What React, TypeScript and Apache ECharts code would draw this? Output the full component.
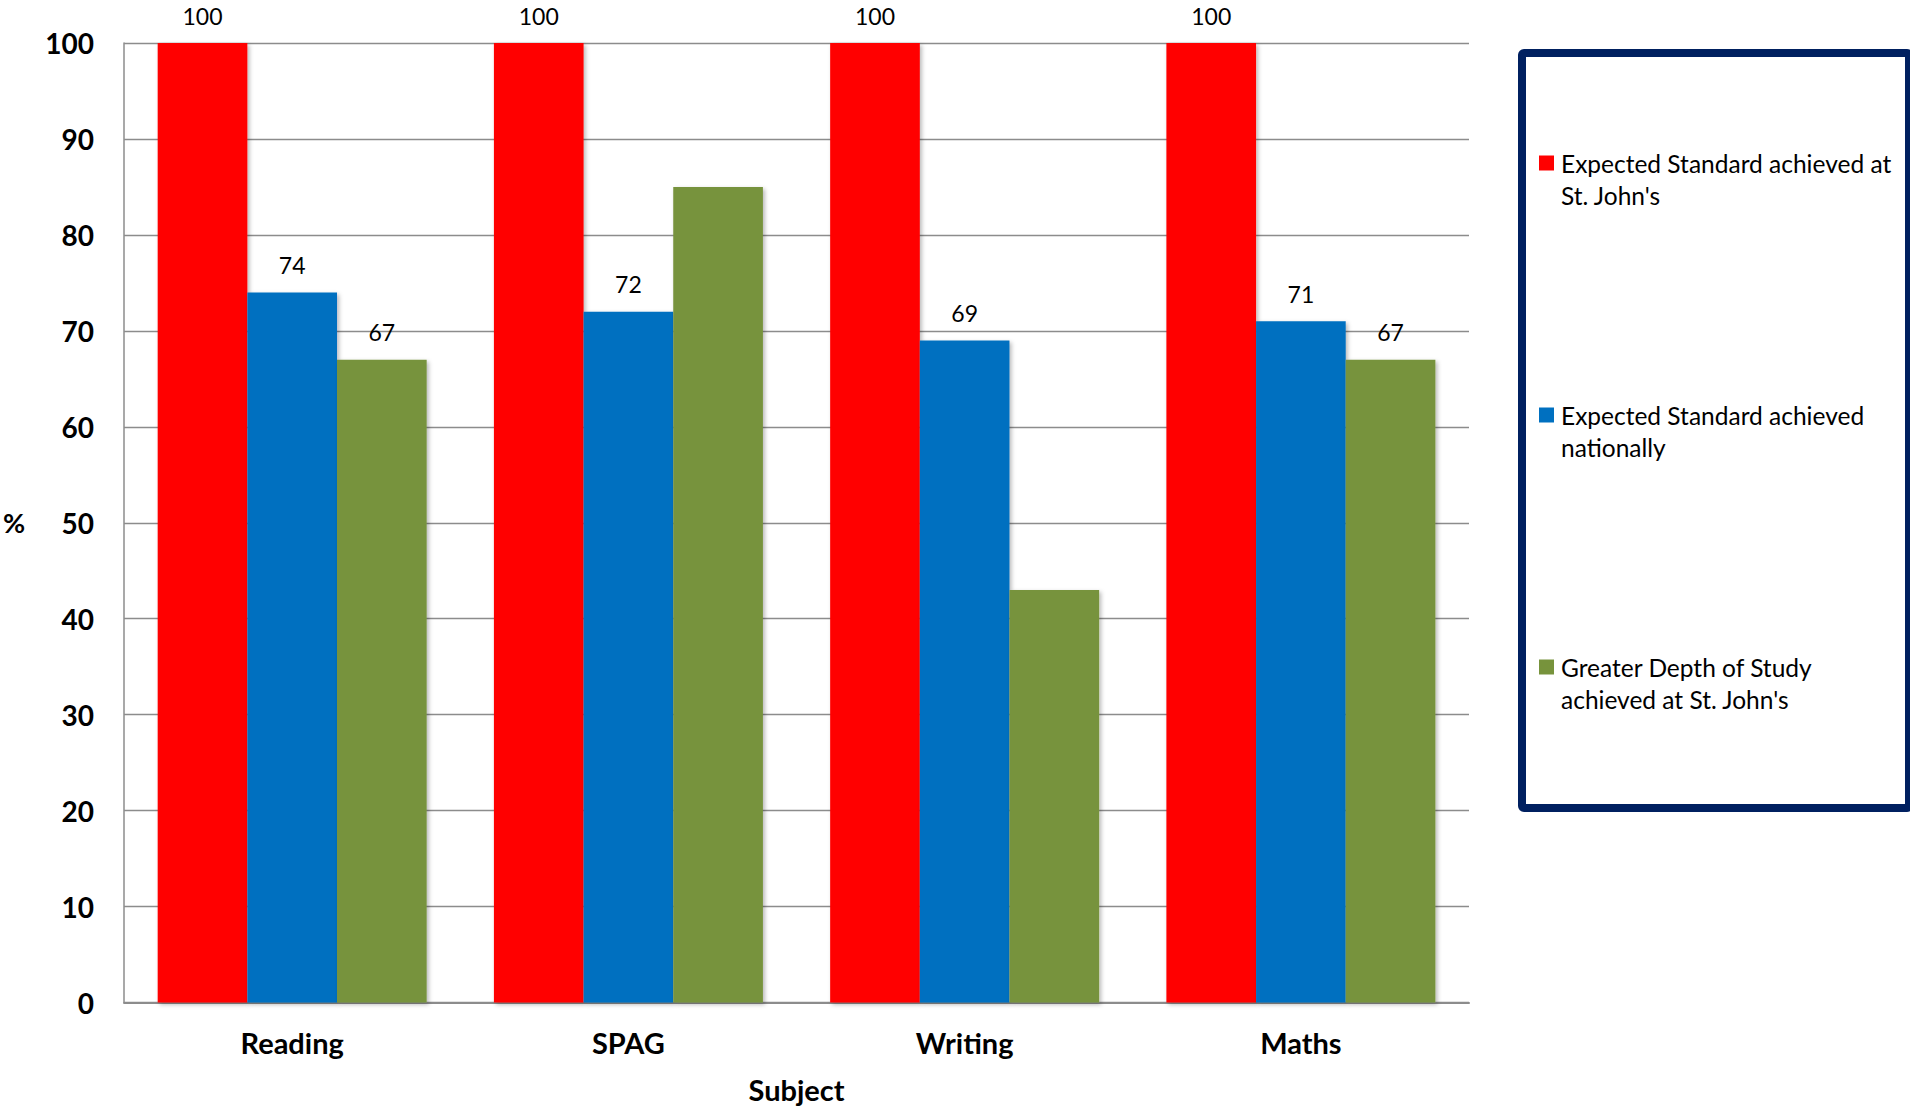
import React, { useEffect, useRef } from "react";
import * as echarts from "echarts";

const categories = ["Reading", "SPAG", "Writing", "Maths"];
const seriesNames = [
  "Expected Standard achieved at St. John's",
  "Expected Standard achieved nationally",
  "Greater Depth of Study achieved at St. John's",
];
const legendWrapped = [
  "Expected Standard achieved at\nSt. John's",
  "Expected Standard achieved\nnationally",
  "Greater Depth of Study\nachieved at St. John's",
];
const expectedSchool = [100, 100, 100, 100];
const expectedNational = [74, 72, 69, 71];
const greaterDepth = [67, 85, 43, 67];
const greaterDepthLabelShown = [true, false, false, true];
const yTicks = { min: 0, max: 100, interval: 10 };
const colors = ["#FF0000", "#0070C0", "#77933C"];

const FONT = "Lato";

export default function App() {
  const ref = useRef<HTMLDivElement>(null);
  useEffect(() => {
    if (!ref.current) return;
    const chart = echarts.init(ref.current, null, { renderer: "svg" });
    const labelStyle = {
      show: true,
      position: "top",
      distance: 16,
      fontFamily: FONT,
      fontSize: 23,
      color: "#000",
    };
    const shadow = {
      shadowColor: "rgba(0,0,0,0.28)",
      shadowBlur: 4,
      shadowOffsetX: 2,
      shadowOffsetY: 2,
    };
    const datasets = [expectedSchool, expectedNational, greaterDepth];
    const series = datasets.map((arr, i) => ({
      name: seriesNames[i],
      type: "bar",
      barGap: "0%",
      barCategoryGap: "20%",
      itemStyle: { color: colors[i], ...shadow },
      label: labelStyle,
      data: arr.map((v, j) =>
        i === 2 && !greaterDepthLabelShown[j]
          ? { value: v, label: { show: false } }
          : v
      ),
    }));
    const wrapMap: Record<string, string> = {};
    seriesNames.forEach((n, i) => (wrapMap[n] = " \n" + legendWrapped[i]));
    chart.setOption({
      animation: false,
      backgroundColor: "#fff",
      grid: { left: 121, right: 441, top: 43, bottom: 104 },
      legend: {
        orient: "vertical",
        left: 1539,
        top: 115,
        padding: 0,
        itemGap: 156,
        itemWidth: 15,
        itemHeight: 15,
        icon: "rect",
        data: seriesNames,
        formatter: (name: string) => wrapMap[name] || name,
        textStyle: {
          fontFamily: FONT,
          fontSize: 24.5,
          lineHeight: 32,
          color: "#000",
          padding: [0, 0, 0, 2],
        },
      },
      xAxis: {
        type: "category",
        data: categories,
        name: "Subject",
        nameLocation: "middle",
        nameGap: 87,
        nameTextStyle: {
          fontFamily: FONT,
          fontSize: 29,
          fontWeight: "bold",
          color: "#000",
          verticalAlign: "middle",
        },
        axisLine: { show: true, lineStyle: { color: "#8c8c8c", width: 2 } },
        axisTick: { show: false },
        axisLabel: {
          fontFamily: FONT,
          fontSize: 29,
          fontWeight: "bold",
          color: "#000",
          margin: 25,
        },
      },
      yAxis: {
        type: "value",
        min: yTicks.min,
        max: yTicks.max,
        interval: yTicks.interval,
        name: "%",
        nameLocation: "middle",
        nameRotate: 0,
        nameGap: 110,
        nameTextStyle: {
          fontFamily: FONT,
          fontSize: 27,
          fontWeight: "bold",
          color: "#000",
          align: "center",
        },
        axisLine: { show: true, lineStyle: { color: "#8c8c8c", width: 1.5 } },
        axisTick: { show: false },
        splitLine: { show: true, lineStyle: { color: "#8c8c8c", width: 1.4 } },
        axisLabel: {
          fontFamily: FONT,
          fontSize: 28,
          fontWeight: "bold",
          color: "#000",
          margin: 30,
        },
      },
      graphic: [
        {
          type: "rect",
          shape: { x: 1522, y: 53, width: 387, height: 755, r: 2 },
          style: { fill: "none", stroke: "#002060", lineWidth: 8 },
          silent: true,
        },
      ],
      series,
    });
    return () => chart.dispose();
  }, []);
  return (
    <div
      ref={ref}
      style={{ position: "fixed", left: 0, top: 0, width: 1910, height: 1109 }}
    />
  );
}
